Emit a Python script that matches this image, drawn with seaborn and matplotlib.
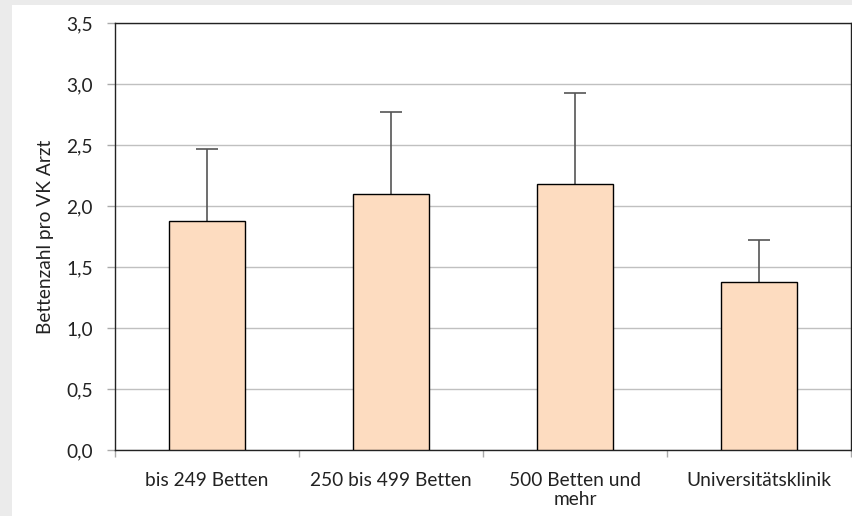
import matplotlib
matplotlib.use("Agg")
import matplotlib.pyplot as plt
import matplotlib.patches as mpatches
from matplotlib.ticker import FixedLocator, FuncFormatter
import numpy as np
import seaborn as sb

# Bettenzahl pro VK Arzt nach Krankenhausgröße
categories = ['bis 249 Betten', '250 bis 499 Betten', '500 Betten und\nmehr', 'Universitätsklinik']
means = [1.88, 2.10, 2.18, 1.38]
errUp = [0.59, 0.67, 0.75, 0.34]
yTicks = [0.0, 0.5, 1.0, 1.5, 2.0, 2.5, 3.0, 3.5]

sb.set_style('white')
plt.rcParams['font.family'] = ['Lato', 'DejaVu Sans']

fig = plt.figure(figsize=(8.52, 5.16), dpi=100, facecolor='#ebebeb')
# white panel inside the gray frame
fig.patches.append(mpatches.Rectangle((12/852, 0), 1, 1 - 5/516, transform=fig.transFigure,
                                      facecolor='white', edgecolor='none', zorder=-1))

ax = fig.add_axes([115/852, 1 - 450/516, 736/852, 427/516])
ax.set_facecolor('white')

sb.barplot(x=categories, y=means, color='#fddcc0', edgecolor='black', linewidth=1,
           width=0.41, saturation=1, ax=ax, zorder=3)

# upward error bars only
eb = ax.errorbar(x=np.arange(len(means)), y=means, yerr=[np.zeros(len(means)), errUp],
                 fmt='none', ecolor='#555555', elinewidth=1.2, capsize=8, capthick=1.2, zorder=2)
eb[1][0].set_visible(False)  # no cap at the bar top

ax.set_ylim(0, 3.5)
ax.set_xlim(-0.5, 3.5)
ax.yaxis.set_major_locator(FixedLocator(yTicks))
ax.yaxis.set_major_formatter(FuncFormatter(lambda v, p: f'{v:.1f}'.replace('.', ',')))
ax.yaxis.grid(True, color='#c0c0c0', linewidth=1)
ax.set_axisbelow(True)

# category ticks between bars, labels centred without tick marks
ax.set_xticks(np.arange(len(categories)))
ax.set_xticklabels(categories, fontsize=13.8, linespacing=1.15)
ax.set_xticks([-0.5, 0.5, 1.5, 2.5, 3.5], minor=True)
ax.tick_params(axis='x', which='major', length=0, pad=16, colors='#222222')
ax.tick_params(axis='x', which='minor', length=5, width=1, color='#aaaaaa', direction='out', bottom=True)
ax.tick_params(axis='y', length=6, width=1, color='#aaaaaa', direction='out', left=True,
               pad=10, labelsize=13.8, labelcolor='#222222')

for s in ax.spines.values():
    s.set_visible(True)
    s.set_color('#222222')
    s.set_linewidth(1)

ax.set_xlabel('')
ax.set_ylabel('Bettenzahl pro VK Arzt', fontsize=13.8, color='#222222', labelpad=9)

fig.savefig('out.png', dpi=100, facecolor=fig.get_facecolor())
